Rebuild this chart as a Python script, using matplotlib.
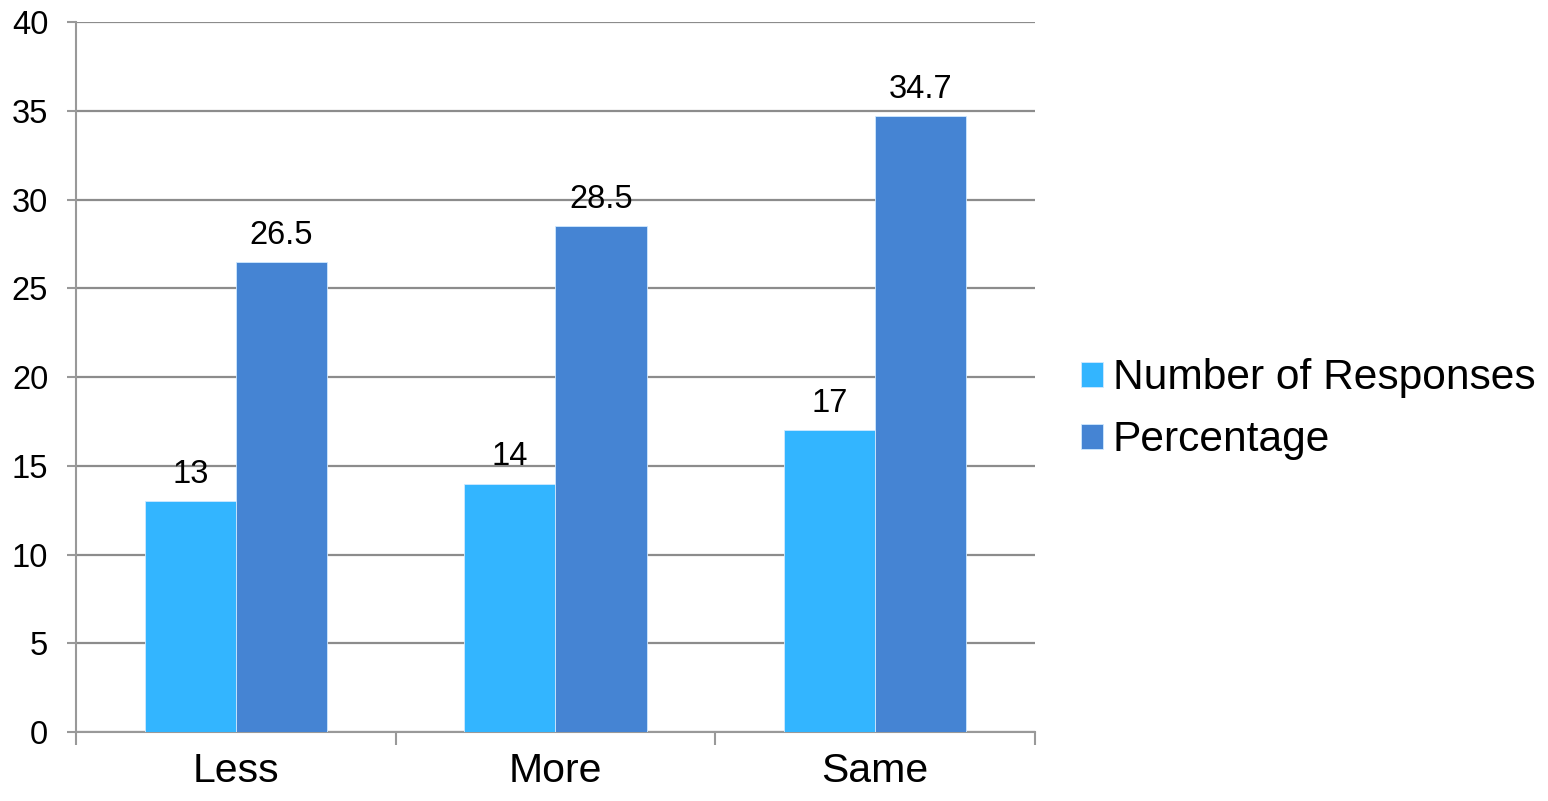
import matplotlib
matplotlib.use("Agg")
import matplotlib.pyplot as plt
import numpy as np

categories = ["Less", "More", "Same"]
responses = [13, 14, 17]
percentage = [26.5, 28.5, 34.7]
series_names = ["Number of Responses", "Percentage"]
y_ticks = [0, 5, 10, 15, 20, 25, 30, 35, 40]

light_blue = "#33B5FF"
dark_blue = "#4584D3"
grid_grey = "#8C8C8C"

plt.rcParams["font.family"] = ["Liberation Sans", "DejaVu Sans"]

fig = plt.figure(figsize=(15.48, 8.01), dpi=100)
ax = fig.add_axes([0.0491, 0.0861, 0.6195, 0.8864])

x = np.arange(len(categories))
w = 0.285
b1 = ax.bar(x - w / 2, responses, w, color=light_blue, edgecolor="#CFE9FF",
            linewidth=0.6, label=series_names[0], zorder=3)
b2 = ax.bar(x + w / 2, percentage, w, color=dark_blue, edgecolor="#CFE9FF",
            linewidth=0.6, label=series_names[1], zorder=3)

for bars, vals in ((b1, responses), (b2, percentage)):
    for rect, v in zip(bars, vals):
        ax.annotate(f"{v:g}", (rect.get_x() + rect.get_width() / 2, v),
                    xytext=(0, 8), textcoords="offset points",
                    ha="center", va="bottom", fontsize=23.5)

ax.set_xlim(-0.5, len(categories) - 0.5)
ax.set_ylim(0, 40)
ax.set_yticks(y_ticks)
ax.set_yticklabels([str(t) for t in y_ticks], fontsize=23.5)
ax.yaxis.grid(True, color=grid_grey, linewidth=1.6, zorder=0)
ax.set_axisbelow(True)

# categories as minor ticks, boundaries as major tick marks
ax.set_xticks(np.arange(len(categories) + 1) - 0.5)
ax.set_xticklabels([])
ax.set_xticks(x, minor=True)
ax.set_xticklabels(categories, minor=True, fontsize=29.5)
ax.tick_params(axis="x", which="major", length=9, width=1.5, color="#999999")
ax.tick_params(axis="x", which="minor", length=0, pad=14.5)
ax.tick_params(axis="y", length=6.5, width=1.5, color="#999999", pad=13.5)

for s in ("top", "right"):
    ax.spines[s].set_visible(False)
for s in ("left", "bottom"):
    ax.spines[s].set_color("#999999")
    ax.spines[s].set_linewidth(1.5)

fig.legend(handles=[b1, b2], labels=series_names, loc="center left",
           bbox_to_anchor=(0.698, 0.489), frameon=False, fontsize=30.6,
           handlelength=0.52, handleheight=0.52, handletextpad=0.24,
           labelspacing=0.52, borderpad=0, borderaxespad=0)

fig.savefig("out.png", dpi=100)
